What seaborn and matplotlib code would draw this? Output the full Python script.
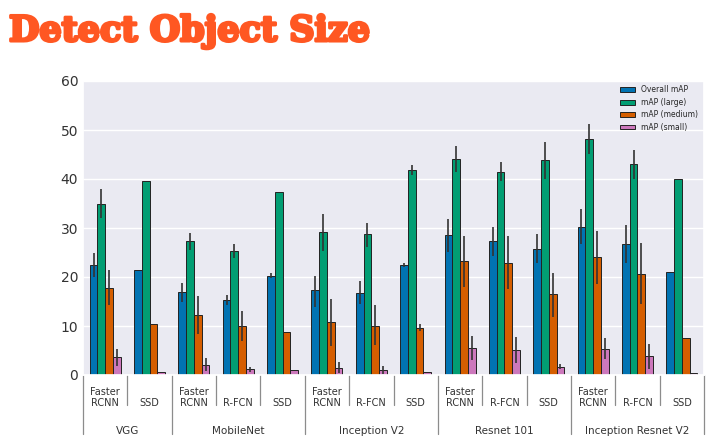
import numpy as np
import pandas as pd
import matplotlib
matplotlib.use("Agg")
import matplotlib.pyplot as plt
import matplotlib.patheffects as pe
import seaborn as sns

nan = np.nan

groups = ["VGG", "MobileNet", "Inception V2", "Resnet 101", "Inception Resnet V2"]
group_sizes = [2, 3, 3, 3, 3]
models = ["Faster\nRCNN", "SSD",
          "Faster\nRCNN", "R-FCN", "SSD",
          "Faster\nRCNN", "R-FCN", "SSD",
          "Faster\nRCNN", "R-FCN", "SSD",
          "Faster\nRCNN", "R-FCN", "SSD"]
metrics = ["Overall mAP", "mAP (large)", "mAP (medium)", "mAP (small)"]

overall = [22.5, 21.5, 16.9, 15.3, 20.3, 17.3, 16.7, 22.4, 28.6, 27.3, 25.8, 30.3, 26.8, 21.1]
overall_lo = [20.1, nan, 14.9, 14.2, 19.7, 13.9, 14.4, 22.0, 25.2, 24.2, 22.8, 26.8, 22.9, nan]
overall_hi = [24.9, nan, 18.8, 16.4, 20.8, 20.3, 19.1, 22.8, 31.9, 30.2, 28.7, 33.9, 30.6, nan]

large = [34.9, 39.6, 27.3, 25.4, 37.3, 29.1, 28.7, 41.9, 44.1, 41.5, 43.9, 48.1, 43.0, 40.0]
large_lo = [32.1, nan, 25.6, 23.9, nan, 25.4, 26.2, 40.8, 41.5, 39.5, 40.1, 45.2, 40.0, nan]
large_hi = [38.0, nan, 29.0, 26.8, nan, 32.9, 31.1, 42.8, 46.7, 43.4, 47.5, 51.3, 46.0, nan]

medium = [17.8, 10.4, 12.2, 10.0, 8.8, 10.8, 10.1, 9.6, 23.3, 22.9, 16.5, 24.1, 20.7, 7.6]
medium_lo = [14.2, nan, 8.3, 7.0, nan, 5.9, 6.1, 8.9, 18.0, 17.6, 11.9, 18.5, 14.4, nan]
medium_hi = [21.5, nan, 16.1, 13.0, nan, 15.6, 14.2, 10.5, 28.4, 28.3, 20.8, 29.4, 26.9, nan]

small = [3.6, 0.6, 2.0, 1.15, 1.0, 1.4, 1.0, 0.6, 5.6, 5.1, 1.7, 5.4, 3.8, 0.5]
small_lo = [1.8, nan, 0.75, 0.6, nan, 0.5, 0.2, nan, 3.05, 2.4, 1.3, 3.3, 1.15, nan]
small_hi = [5.4, nan, 3.4, 1.7, nan, 2.6, 1.8, nan, 7.9, 7.8, 2.2, 7.6, 6.4, nan]

yticks = [0, 10, 20, 30, 40, 50, 60]

# ---- build long table ----
group_of = []
for g, n in zip(groups, group_sizes):
    group_of += [g] * n
keys = [f"{g}|{m}" for g, m in zip(group_of, models)]

series = [(overall, overall_lo, overall_hi), (large, large_lo, large_hi),
          (medium, medium_lo, medium_hi), (small, small_lo, small_hi)]
rows = []
for met, (v, lo, hi) in zip(metrics, series):
    for k, a, b, c in zip(keys, v, lo, hi):
        rows.append(dict(key=k, metric=met, value=a, lo=b, hi=c))
df = pd.DataFrame(rows)

sns.set_theme(style="darkgrid")
plt.rcParams["font.family"] = ["DejaVu Sans"]

fig = plt.figure(figsize=(7.26, 4.46), dpi=100)
ax = fig.add_axes([83 / 726, 1 - 375 / 446, 621 / 726, 294 / 446])

cb = sns.color_palette("colorblind")
palette = [cb[0], cb[2], cb[3], cb[4]]
sns.barplot(data=df, x="key", y="value", hue="metric", order=keys,
            hue_order=metrics, palette=palette, saturation=1, width=0.7,
            errorbar=None, edgecolor="#222222", linewidth=0.7, ax=ax)

# error bars at the bar centres
for cont, met in zip(ax.containers, metrics):
    sub = df[df.metric == met].set_index("key").loc[keys]
    for bar, lo, hi in zip(cont, sub["lo"], sub["hi"]):
        if np.isnan(lo):
            continue
        xc = bar.get_x() + bar.get_width() / 2
        ax.vlines(xc, lo, hi, color="#333333", lw=1.2, zorder=5)

ax.set_ylim(0, 60)
ax.set_yticks(yticks)
ax.tick_params(axis="y", labelsize=10, labelcolor="#333333", pad=3.5, length=0)
ax.set_xlim(-0.5, len(keys) - 0.5)
ax.set_xticks([])
ax.set_xlabel("")
ax.set_ylabel("")
ax.grid(axis="x", visible=False)

leg = ax.legend(loc="upper right", bbox_to_anchor=(0.99, 0.985), frameon=False,
                fontsize=5.5, handlelength=2.0, handleheight=0.6,
                labelspacing=0.45, handletextpad=0.7, borderaxespad=0, borderpad=0)
for t in leg.get_texts():
    t.set_color("#262626")

# hierarchical x labels
tr = ax.get_xaxis_transform()
sep_col = "#8c8c8c"
for i, m in enumerate(models):
    ax.text(i, -0.112, m, transform=tr, ha="center", va="bottom",
            fontsize=7, color="#333333", linespacing=1.15)
bounds = np.cumsum([0] + group_sizes) - 0.5
for b in np.arange(-0.5, len(keys)):
    if np.any(np.isclose(bounds, b)):
        ax.plot([b, b], [0, -0.2], transform=tr, color=sep_col, lw=0.9, clip_on=False)
    else:
        ax.plot([b, b], [0, -0.102], transform=tr, color=sep_col, lw=0.9, clip_on=False)
start = 0
for g, n in zip(groups, group_sizes):
    ax.text(start + (n - 1) / 2, -0.19, g, transform=tr, ha="center", va="center",
            fontsize=7.5, color="#333333")
    start += n

fig.text(9 / 726, 1 - 41 / 446, "Detect Object Size", fontsize=25.2,
         fontweight="heavy", family="DejaVu Serif", color="#FF5722",
         ha="left", va="baseline",
         path_effects=[pe.withStroke(linewidth=2.2, foreground="#FF5722")])

fig.savefig("out.png", dpi=100)
